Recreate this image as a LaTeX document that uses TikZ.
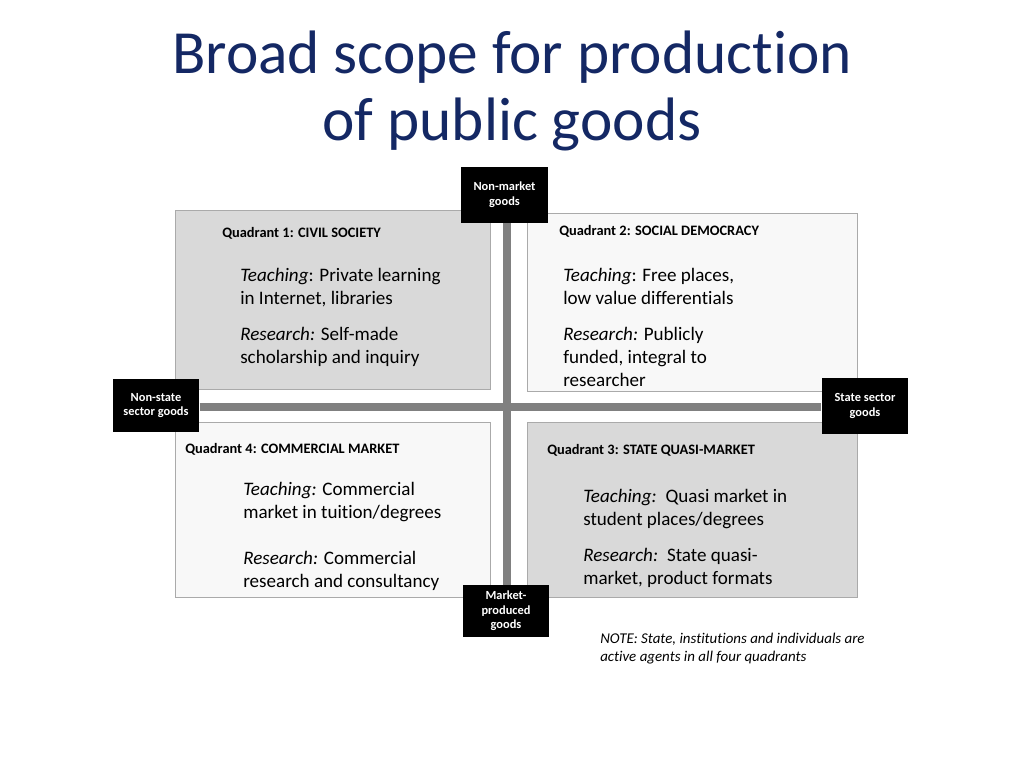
\documentclass[tikz,border=0pt]{standalone}
\usepackage{fontspec}
\setmainfont[Ligatures=NoCommon]{Carlito}
\definecolor{navy}{RGB}{20,40,100}
\definecolor{qdark}{RGB}{217,217,217}
\definecolor{qlight}{RGB}{248,248,248}
\definecolor{edge}{RGB}{170,170,170}
\definecolor{bar}{RGB}{128,128,128}
\begin{document}
\begin{tikzpicture}[x=0.75pt,y=-0.75pt,
  quad/.style={draw=edge,line width=0.6pt},
  blk/.style={fill=black,text=white,font=\fontsize{9.3}{11}\selectfont\bfseries,align=center,inner sep=0pt},
  ql/.style={anchor=base west,inner sep=0pt,font=\fontsize{10.8}{12}\selectfont\bfseries},
  tx/.style={anchor=base west,inner sep=0pt,font=\fontsize{14.3}{16}\selectfont},
  note/.style={anchor=base west,inner sep=0pt,font=\fontsize{11.2}{13}\selectfont\itshape},
  barline/.style={draw=bar,line width=6pt}]
\useasboundingbox (0,0) rectangle (1024,768);
\node[text=navy,font=\fontsize{46}{54}\selectfont] (t1) at (512,57) {Broad scope for production};
\node[text=navy,font=\fontsize{46}{54}\selectfont] (t2) at (512,124) {of public goods};
\fill[qdark,quad] (175,210) rectangle (490,389);
\fill[qlight,quad] (527,213) rectangle (857,391);
\fill[qlight,quad] (175,422) rectangle (490,597);
\fill[qdark,quad] (527,422) rectangle (857,597);
\node[blk,minimum width=65pt,minimum height=42pt] (top) at (504.5,195) {Non-market\\goods};
\node[blk,minimum width=65pt,minimum height=40pt] (left) at (156,405.5) {Non-state\\sector goods};
\node[blk,minimum width=65pt,minimum height=42pt] (right) at (865,406) {State sector\\goods};
\node[blk,minimum width=65pt,minimum height=39pt] (bot) at (506,611) {Market-\\produced\\goods};
\draw[barline] (top.south -| 507,0) -- (bot.north -| 507,0);
\draw[barline] (left.east |- 0,407) -- (right.west |- 0,407);
\node[ql] (q1) at (222,237) {Quadrant 1: CIVIL SOCIETY};
\node[tx] (a1) at (240,281) {\textit{Teaching}: Private learning};
\node[tx] (a2) at (240,304) {in Internet, libraries};
\node[tx] (a3) at (240,340) {\textit{Research:} Self-made};
\node[tx] (a4) at (240,363) {scholarship and inquiry};
\node[ql] (q2) at (559,235) {Quadrant 2: SOCIAL DEMOCRACY};
\node[tx] (b1) at (563,281) {\textit{Teaching}: Free places,};
\node[tx] (b2) at (563,304) {low value differentials};
\node[tx] (b3) at (563,340) {\textit{Research:} Publicly};
\node[tx] (b4) at (563,363) {funded, integral to};
\node[tx] (b5) at (563,386) {researcher};
\node[ql] (q4) at (185,453) {Quadrant 4: COMMERCIAL MARKET};
\node[tx] (c1) at (243,495) {\textit{Teaching:} Commercial};
\node[tx] (c2) at (243,518) {market in tuition/degrees};
\node[tx] (c3) at (243,564) {\textit{Research:} Commercial};
\node[tx] (c4) at (243,587) {research and consultancy};
\node[ql] (q3) at (547,454) {Quadrant 3: STATE QUASI-MARKET};
\node[tx] (d1) at (583,502) {\textit{Teaching:}\, Quasi market in};
\node[tx] (d2) at (583,525) {student places/degrees};
\node[tx] (d3) at (583,561) {\textit{Research:}\, State quasi-};
\node[tx] (d4) at (583,584) {market, product formats};
\node[note] (n1) at (600,643) {NOTE: State, institutions and individuals are};
\node[note] (n2) at (600,661) {active agents in all four quadrants};
\end{tikzpicture}
\end{document}
